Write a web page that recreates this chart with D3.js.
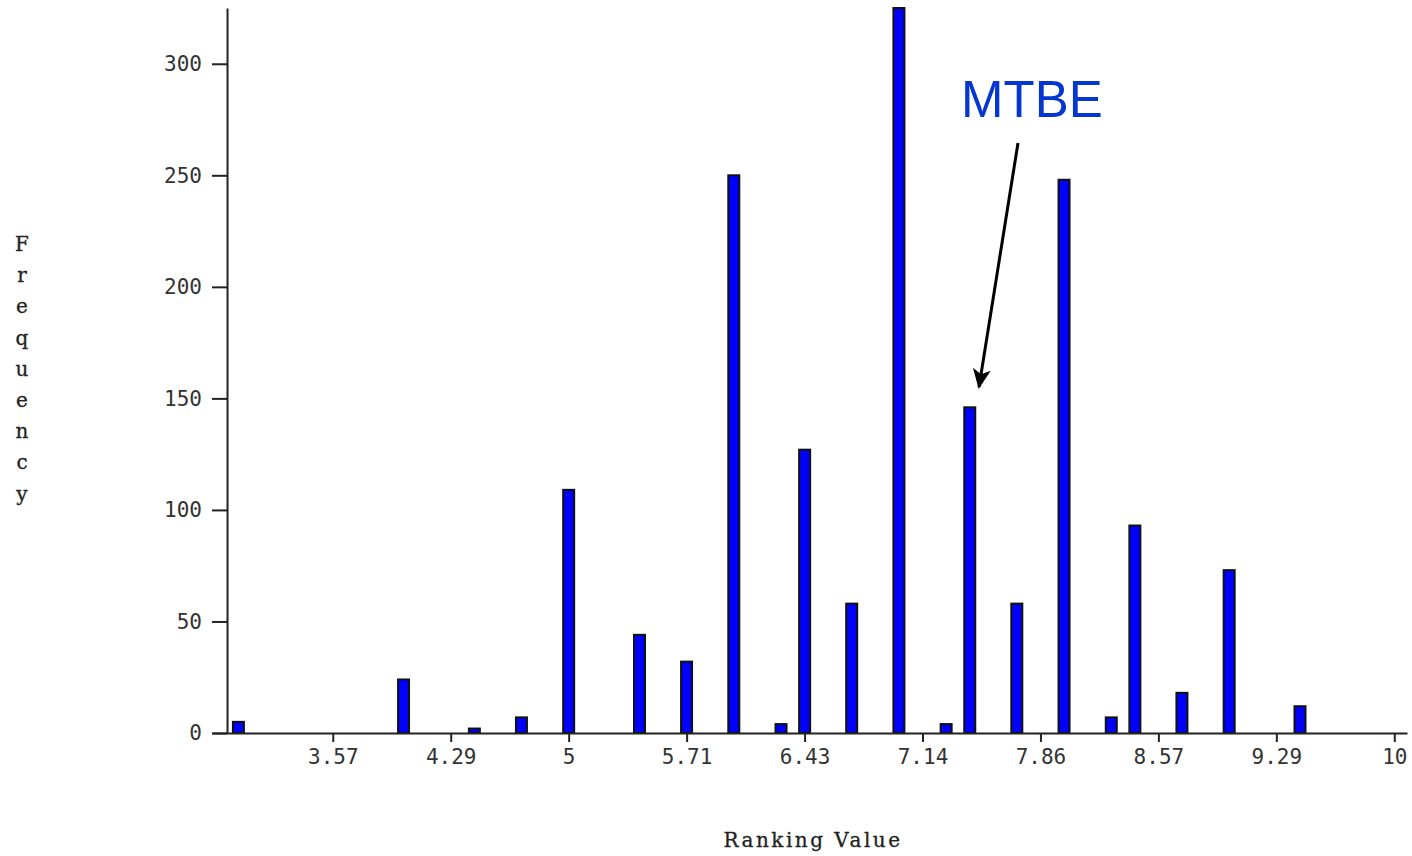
<!DOCTYPE html>
<html>
<head>
<meta charset="utf-8">
<script src="https://cdn.jsdelivr.net/npm/d3@7"></script>
<style>
  body { margin: 0; background: #fff; }
  svg { display: block; }
  .axis text { font-family: "DejaVu Sans Mono", monospace; font-size: 21px; fill: #333; }
  .axis path, .axis line { stroke: #222; stroke-width: 2; }
  .title { font-family: "DejaVu Serif", serif; font-size: 20px; fill: #222; stroke: #222; stroke-width: 0.3; }
</style>
</head>
<body>
<div class="viz"></div>
<script>
// ranking values sit on a 1/7 grid
const rankingValues = [3, 4, 4.429, 4.714, 5, 5.429, 5.714, 6, 6.286, 6.429, 6.714,
  7, 7.286, 7.429, 7.714, 8, 8.286, 8.429, 8.714, 9, 9.429];
const frequencies = [5, 24, 2, 7, 109, 44, 32, 250, 4, 127, 58,
  325, 4, 146, 58, 248, 7, 93, 18, 73, 12];

const xTickValues = [3.5714, 4.2857, 5, 5.7143, 6.4286, 7.1429, 7.8571, 8.5714, 9.2857, 10];
const xTickLabels = ["3.57", "4.29", "5", "5.71", "6.43", "7.14", "7.86", "8.57", "9.29", "10"];
const yTickValues = [0, 50, 100, 150, 200, 250, 300];

const width = 1412;
const height = 856;

const data = rankingValues.map((v, i) => ({ value: v, freq: frequencies[i] }));

const svg = d3.select(".viz")
  .append("svg")
  .attr("width", width)
  .attr("height", height);

const xScale = d3.scaleLinear()
  .domain([2.84, 10.077])
  .range([212, 1407]);

const yScale = d3.scaleLinear()
  .domain([0, 325])
  .range([733, 8]);

const barW = 11;

svg.append("g")
  .attr("class", "bars")
  .selectAll("rect")
  .data(data)
  .join("rect")
  .attr("x", d => xScale(d.value) - barW / 2)
  .attr("y", d => yScale(d.freq))
  .attr("width", barW)
  .attr("height", d => yScale(0) - yScale(d.freq))
  .attr("fill", "#0000ff")
  .attr("stroke", "#111")
  .attr("stroke-width", 2);

// x axis
svg.append("g")
  .attr("class", "axis x-axis")
  .attr("transform", `translate(0, ${yScale(0)})`)
  .call(d3.axisBottom(xScale)
    .tickValues(xTickValues)
    .tickFormat((d, i) => xTickLabels[i])
    .tickSize(9)
    .tickSizeOuter(0)
    .tickPadding(7));

// y axis
svg.append("g")
  .attr("class", "axis y-axis")
  .attr("transform", `translate(${xScale(2.931)}, 0)`)
  .call(d3.axisLeft(yScale)
    .tickValues(yTickValues)
    .tickSize(15)
    .tickSizeOuter(0)
    .tickPadding(10));

// axis titles
svg.append("text")
  .attr("class", "title")
  .attr("x", 813)
  .attr("y", 847)
  .attr("text-anchor", "middle")
  .attr("letter-spacing", 2.5)
  .text("Ranking Value");

const yTitle = "Frequency".split("");
svg.append("g")
  .selectAll("text")
  .data(yTitle)
  .join("text")
  .attr("class", "title")
  .attr("x", 22)
  .attr("y", (d, i) => 251 + i * 31.2)
  .attr("text-anchor", "middle")
  .text(d => d);

// MTBE annotation
svg.append("defs")
  .append("marker")
  .attr("id", "arrow")
  .attr("viewBox", "0 0 20 20")
  .attr("refX", 18)
  .attr("refY", 10)
  .attr("markerWidth", 20)
  .attr("markerHeight", 20)
  .attr("markerUnits", "userSpaceOnUse")
  .attr("orient", "auto")
  .append("path")
  .attr("d", "M0,1 L20,10 L0,19 L5,10 Z")
  .attr("fill", "#000");

svg.append("text")
  .attr("x", 961)
  .attr("y", 117)
  .attr("font-family", "Liberation Sans, Arial, sans-serif")
  .attr("font-size", 51)
  .attr("fill", "#0536cf")
  .text("MTBE");

svg.append("line")
  .attr("x1", 1018)
  .attr("y1", 143)
  .attr("x2", 979)
  .attr("y2", 387)
  .attr("stroke", "#000")
  .attr("stroke-width", 3)
  .attr("marker-end", "url(#arrow)");
</script>
</body>
</html>
